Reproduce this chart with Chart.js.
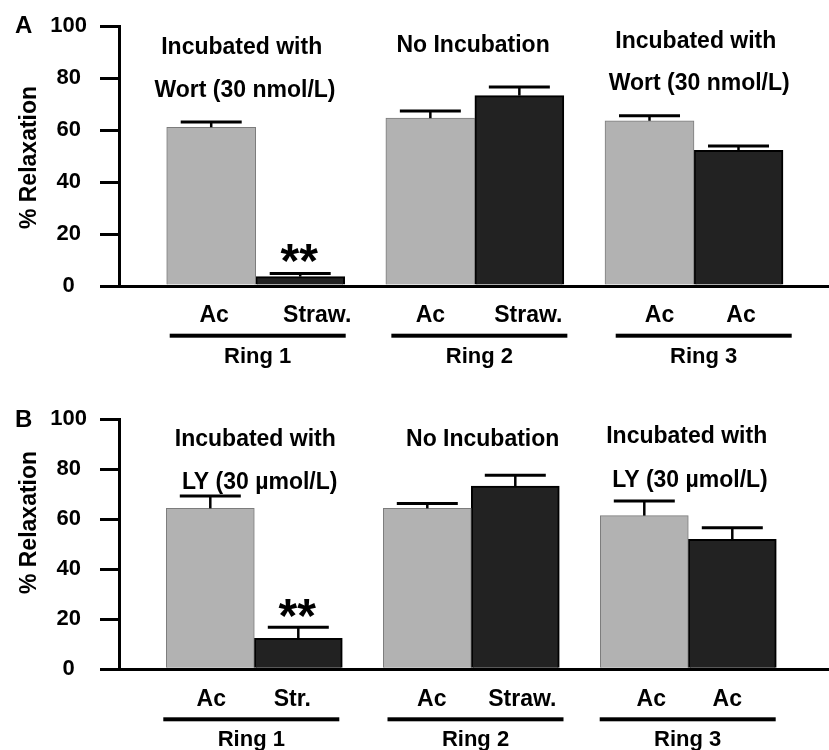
<!DOCTYPE html>
<html><head><meta charset="utf-8">
<script src="https://cdn.jsdelivr.net/npm/chart.js@4/dist/chart.umd.min.js"></script>
<style>
html,body{margin:0;padding:0;background:#fff;}
canvas{display:block;}
</style></head>
<body>
<canvas id="panelA" width="829" height="375"></canvas>
<canvas id="panelB" width="829" height="375"></canvas>
<script>
// ---------- data ----------
const ringLabels = ['Ring 1', 'Ring 2', 'Ring 3'];
const ringPositions = [1, 2, 3];
const yTickValues = [0, 20, 40, 60, 80, 100];
const yAxisTitle = '% Relaxation';

const titlesA = [['Incubated with', 'Wort (30 nmol/L)'], ['No Incubation'], ['Incubated with', 'Wort (30 nmol/L)']];
const lightLabelsA = ['Ac', 'Ac', 'Ac'];
const darkLabelsA = ['Straw.', 'Straw.', 'Ac'];
const lightValuesA = [61.1, 64.6, 63.6];
const lightErrorsA = [2.0, 2.8, 1.9];
const darkValuesA = [3.6, 73.3, 52.2];
const darkErrorsA = [1.2, 3.3, 1.7];
const significanceA = ['**', '', ''];

const titlesB = [['Incubated with', 'LY (30 µmol/L)'], ['No Incubation'], ['Incubated with', 'LY (30 µmol/L)']];
const lightLabelsB = ['Ac', 'Ac', 'Ac'];
const darkLabelsB = ['Str.', 'Straw.', 'Ac'];
const lightValuesB = [64.3, 64.3, 61.4];
const lightErrorsB = [4.9, 1.9, 5.8];
const darkValuesB = [12.4, 73.2, 51.9];
const darkErrorsB = [4.4, 4.3, 4.7];
const significanceB = ['**', '', ''];

// ---------- styling / layout ----------
const FONT = '"Liberation Sans", Arial, Helvetica, sans-serif';
const LIGHT_FILL = '#b2b2b2', LIGHT_EDGE = '#7c7c7c';
const DARK_FILL = '#222222', DARK_EDGE = '#000000';

const layoutA = {
  letter: 'A', letterY: 24.2, yTitleY: 157.5,
  padTop: 24.3, xAxisHeight: 89, xMin: 0.3762, xMax: 3.616, barPx: 89,
  titleY: [[45.3, 88.3], [43.7], [39.5, 81.7]],
  titleDx: [[-14, -10.7], [-1.8], [1.8, 5.2]],
  labelDy: 27.8, labelDx: [[3, 17], [0, 9], [10, 2.5]],
  lineDy: 49.7, lineDx: [2, 4.5, 9.7], lineHalf: 88,
  ringDy: 69, sigDy: 18
};
const layoutB = {
  letter: 'B', letterY: 43.3, yTitleY: 147.5,
  padTop: 44, xAxisHeight: 80.7, xMin: 0.3765, xMax: 3.6484, barPx: 88,
  titleY: [[63, 105.5], [63], [60, 103.7]],
  titleDx: [[1, 5.4], [11.4], [-1.6, 1.7]],
  labelDy: 28.2, labelDx: [[1, -6], [4.5, 7], [7, -5]],
  lineDy: 50, lineDx: [-3, 4.2, -0.6], lineHalf: 88,
  ringDy: 69, sigDy: 16.3
};

function capText(ctx, text, x, capCenterY, size, align) {
  ctx.font = 'bold ' + size + 'px ' + FONT;
  ctx.textAlign = align || 'center';
  ctx.textBaseline = 'alphabetic';
  ctx.fillStyle = '#000';
  ctx.fillText(text, x, capCenterY + 0.358 * size);
}

function makePanel(canvasId, d, L) {
  const annot = {
    id: 'annot_' + canvasId,
    afterDatasetsDraw(chart) {
      const ctx = chart.ctx, ys = chart.scales.y;
      const series = [[d.light, d.lightErr], [d.dark, d.darkErr]];
      ctx.save();
      ctx.strokeStyle = '#000';
      series.forEach((s, di) => {
        const meta = chart.getDatasetMeta(di);
        meta.data.forEach((bar, i) => {
          const top = ys.getPixelForValue(s[0][i]);
          const errTop = ys.getPixelForValue(s[0][i] + s[1][i]);
          ctx.lineWidth = 2.5;
          ctx.beginPath(); ctx.moveTo(bar.x, top); ctx.lineTo(bar.x, errTop); ctx.stroke();
          ctx.lineWidth = 3;
          ctx.beginPath(); ctx.moveTo(bar.x - 30.5, errTop); ctx.lineTo(bar.x + 30.5, errTop); ctx.stroke();
          if (di === 1 && d.sig[i]) {
            ctx.font = 'bold 48px ' + FONT;
            ctx.textAlign = 'center';
            ctx.textBaseline = 'alphabetic';
            ctx.fillStyle = '#000';
            ctx.fillText(d.sig[i], bar.x - 1, errTop - L.sigDy + 21);
          }
        });
      });
      ctx.restore();
    },
    afterDraw(chart) {
      const ctx = chart.ctx, xs = chart.scales.x, area = chart.chartArea;
      ctx.save();
      capText(ctx, L.letter, 15, L.letterY, 24, 'left');
      // y axis title
      ctx.save();
      ctx.translate(28, L.yTitleY);
      ctx.rotate(-Math.PI / 2);
      capText(ctx, yAxisTitle, 0, 0, 23, 'center');
      ctx.restore();
      const metaL = chart.getDatasetMeta(0), metaD = chart.getDatasetMeta(1);
      ringPositions.forEach((pos, i) => {
        const cx = xs.getPixelForValue(pos);
        d.titles[i].forEach((t, k) => capText(ctx, t, cx + L.titleDx[i][k], L.titleY[i][k], 23));
        capText(ctx, d.lightLabels[i], metaL.data[i].x + L.labelDx[i][0], area.bottom + L.labelDy, 23);
        capText(ctx, d.darkLabels[i], metaD.data[i].x + L.labelDx[i][1], area.bottom + L.labelDy, 23);
        const lc = cx + L.lineDx[i];
        ctx.fillStyle = '#000';
        ctx.fillRect(lc - L.lineHalf, area.bottom + L.lineDy - 2, 2 * L.lineHalf, 4);
        capText(ctx, ringLabels[i], lc, area.bottom + L.ringDy, 22);
      });
      ctx.restore();
    }
  };

  return new Chart(document.getElementById(canvasId), {
    type: 'bar',
    data: {
      datasets: [
        { label: 'Ac', data: ringPositions.map((x, i) => ({ x, y: d.light[i] })),
          backgroundColor: LIGHT_FILL, borderColor: LIGHT_EDGE, borderWidth: 1, barThickness: L.barPx },
        { label: 'Treatment', data: ringPositions.map((x, i) => ({ x, y: d.dark[i] })),
          backgroundColor: DARK_FILL, borderColor: DARK_EDGE, borderWidth: 2, barThickness: L.barPx }
      ]
    },
    options: {
      responsive: false, animation: false, devicePixelRatio: 1, events: [],
      layout: { padding: { top: L.padTop, left: 0, right: 0, bottom: 0 } },
      plugins: { legend: { display: false }, tooltip: { enabled: false } },
      scales: {
        x: {
          type: 'linear', min: L.xMin, max: L.xMax, offset: false,
          afterBuildTicks: s => { s.ticks = ringPositions.map(v => ({ value: v })); },
          afterFit: s => { s.height = L.xAxisHeight; },
          ticks: { display: false },
          grid: { display: false },
          border: { display: true, color: '#000', width: 3 }
        },
        y: {
          min: 0, max: 100,
          afterBuildTicks: s => { s.ticks = yTickValues.map(v => ({ value: v })); },
          afterFit: s => { s.width = 119; },
          ticks: { color: '#000', font: { family: FONT, size: 22, weight: 'bold' }, crossAlign: 'center', padding: 13 },
          grid: { drawOnChartArea: false, drawTicks: true, tickLength: 19, lineWidth: 3, color: '#000' },
          border: { display: true, color: '#000', width: 3 }
        }
      }
    },
    plugins: [annot]
  });
}

makePanel('panelA', {
  titles: titlesA, lightLabels: lightLabelsA, darkLabels: darkLabelsA,
  light: lightValuesA, lightErr: lightErrorsA, dark: darkValuesA, darkErr: darkErrorsA, sig: significanceA
}, layoutA);
makePanel('panelB', {
  titles: titlesB, lightLabels: lightLabelsB, darkLabels: darkLabelsB,
  light: lightValuesB, lightErr: lightErrorsB, dark: darkValuesB, darkErr: darkErrorsB, sig: significanceB
}, layoutB);
</script>
</body></html>
